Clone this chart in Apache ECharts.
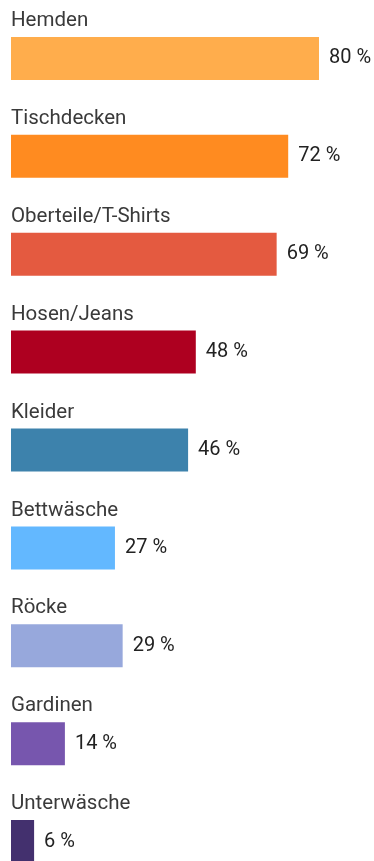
<!DOCTYPE html>
<html>
<head>
<meta charset="utf-8">
<script src="https://cdn.jsdelivr.net/npm/echarts@6/dist/echarts.min.js"></script>
<style>
  html, body { margin: 0; padding: 0; background: #fff; overflow: hidden; }
  #chart { width: 374px; height: 900px; }
</style>
</head>
<body>
<div id="chart"></div>
<script>
// Anteil je Textilart (in Prozent)
const categories = ['Hemden', 'Tischdecken', 'Oberteile/T-Shirts', 'Hosen/Jeans', 'Kleider', 'Bettwäsche', 'Röcke', 'Gardinen', 'Unterwäsche'];
const values = [80, 72, 69, 48, 46, 27, 29, 14, 6];
const barColors = ['#FFAD4C', '#FF8B20', '#E45A40', '#AE0020', '#3D82AC', '#63B8FF', '#97A8DC', '#7756AE', '#43306E'];

const chart = echarts.init(document.getElementById('chart'), null, { renderer: 'canvas' });

const FONT = 'Roboto, "Noto Sans", sans-serif';

chart.setOption({
  animation: false,
  backgroundColor: '#ffffff',
  grid: { left: 11, right: 55, top: 9.5, height: 881, containLabel: false },
  xAxis: {
    type: 'value',
    min: 0,
    max: 80,
    show: false
  },
  yAxis: {
    type: 'category',
    data: categories,
    inverse: true,
    show: false
  },
  series: [
    {
      // Balken mit Prozentwert rechts daneben
      type: 'bar',
      barWidth: 43,
      data: values.map((v, i) => ({ value: v, itemStyle: { color: barColors[i] } })),
      label: {
        show: true,
        position: 'right',
        distance: 10,
        formatter: p => p.value + ' %',
        fontFamily: FONT,
        fontSize: 20,
        color: '#222222'
      },
      labelLayout: { hideOverlap: false }
    },
    {
      // Kategoriename über dem jeweiligen Balken
      type: 'bar',
      barWidth: 43,
      barGap: '-100%',
      silent: true,
      data: values,
      itemStyle: { color: 'rgba(0,0,0,0)' },
      label: {
        show: true,
        position: [0, -16],
        align: 'left',
        verticalAlign: 'middle',
        formatter: p => p.name,
        fontFamily: FONT,
        fontSize: 20.5,
        color: '#3a3a3a'
      },
      labelLayout: { hideOverlap: false }
    }
  ]
});
</script>
</body>
</html>
